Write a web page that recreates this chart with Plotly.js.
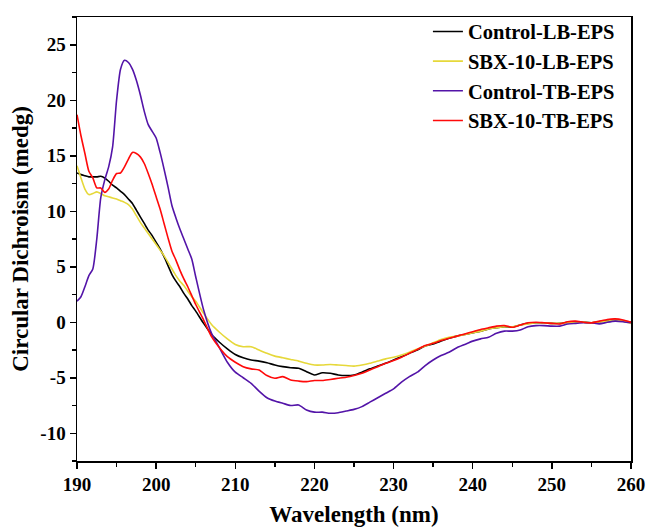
<!DOCTYPE html>
<html>
<head>
<meta charset="utf-8">
<script src="https://cdn.plot.ly/plotly-3.0.1.min.js"></script>
<style>html,body{margin:0;padding:0;background:#fff;}</style>
</head>
<body>
<div id="chart" style="width:646px;height:527px;"></div>
<script>
// Wavelength (nm): 0.5 nm steps 190-205, then 1 nm steps 206-260
const wavelength = [190,190.5,191,191.5,192,192.5,193,193.5,194,194.5,195,195.5,196,196.5,197,197.5,198,198.5,199,199.5,200,200.5,201,201.5,202,202.5,203,203.5,204,204.5,205,
206,207,208,209,210,211,212,213,214,215,216,217,218,219,220,221,222,223,224,225,226,227,228,229,230,231,232,233,234,235,236,237,238,239,240,241,242,243,244,245,246,247,248,249,250,251,252,253,254,255,256,257,258,259,260];

const controlLB = [13.45,13.3,13.2,13.1,13.1,13.1,13.15,13.0,12.7,12.35,12.1,11.8,11.5,11.1,10.7,10.1,9.5,8.9,8.3,7.8,7.2,6.6,5.9,5.1,4.3,3.7,3.2,2.6,2.1,1.5,1.0,
-0.1,-1.1,-1.8,-2.4,-2.9,-3.2,-3.4,-3.5,-3.65,-3.85,-4.0,-4.1,-4.15,-4.45,-4.75,-4.55,-4.6,-4.75,-4.8,-4.75,-4.5,-4.2,-3.95,-3.7,-3.4,-3.1,-2.8,-2.5,-2.15,-1.95,-1.7,-1.45,-1.25,-1.1,-0.95,-0.8,-0.6,-0.5,-0.4,-0.45,-0.25,-0.1,-0.05,-0.05,-0.1,-0.1,0.0,0.05,0.0,-0.05,0.05,0.15,0.2,0.1,0.0];

const sbx10LB = [14.1,13.0,12.0,11.5,11.6,11.75,11.6,11.4,11.3,11.2,11.1,10.95,10.8,10.6,10.2,9.6,9.0,8.5,8.0,7.5,7.0,6.5,6.0,5.4,4.8,4.2,3.7,3.3,2.8,2.3,1.9,
0.8,-0.2,-0.9,-1.5,-2.0,-2.2,-2.2,-2.5,-2.8,-3.05,-3.2,-3.35,-3.5,-3.7,-3.85,-3.85,-3.8,-3.85,-3.9,-3.95,-3.85,-3.7,-3.5,-3.3,-3.15,-2.95,-2.7,-2.4,-2.15,-1.85,-1.55,-1.35,-1.25,-1.1,-0.95,-0.8,-0.6,-0.5,-0.4,-0.4,-0.25,-0.15,-0.05,-0.05,-0.1,-0.1,-0.05,0.0,0.0,-0.05,0.05,0.1,0.2,0.1,-0.1];

const controlTB = [1.9,2.3,3.2,4.2,4.8,7.5,11.2,12.8,14.0,15.8,20.0,22.8,23.6,23.4,22.8,21.8,20.5,19.0,17.8,17.2,16.6,15.3,13.8,12.2,10.5,9.4,8.4,7.5,6.6,5.7,4.1,
1.1,-1.0,-2.3,-3.6,-4.5,-5.0,-5.5,-6.2,-6.8,-7.1,-7.3,-7.5,-7.45,-7.9,-8.1,-8.1,-8.2,-8.15,-8.0,-7.85,-7.6,-7.2,-6.8,-6.4,-6.0,-5.4,-4.9,-4.5,-3.9,-3.4,-3.0,-2.7,-2.3,-2.0,-1.7,-1.5,-1.35,-1.0,-0.8,-0.8,-0.7,-0.4,-0.3,-0.3,-0.35,-0.35,-0.15,-0.1,-0.05,-0.05,-0.15,0.0,0.1,0.05,-0.05];

const sbx10TB = [18.7,16.8,15.2,13.6,13.0,12.1,12.1,11.7,12.0,12.8,13.4,13.45,14.0,14.7,15.3,15.2,14.9,14.3,13.4,12.4,11.3,10.2,8.9,7.6,6.4,5.6,4.7,3.9,3.2,2.4,1.6,
0.2,-1.3,-2.3,-3.1,-3.6,-4.0,-4.2,-4.3,-4.8,-5.05,-4.9,-5.2,-5.3,-5.35,-5.25,-5.25,-5.15,-5.05,-4.95,-4.8,-4.6,-4.3,-4.0,-3.7,-3.45,-3.15,-2.8,-2.45,-2.1,-1.9,-1.65,-1.45,-1.25,-1.05,-0.85,-0.65,-0.5,-0.35,-0.3,-0.45,-0.25,-0.05,0.0,-0.05,-0.1,-0.15,0.05,0.1,0.0,-0.05,0.1,0.25,0.3,0.2,0.0];

const seriesNames = ['Control-LB-EPS','SBX-10-LB-EPS','Control-TB-EPS','SBX-10-TB-EPS'];
const seriesValues = [controlLB, sbx10LB, controlTB, sbx10TB];
const seriesColors = ['#000000','#e6d83a','#5314a8','#ff0a0a'];

// y tick labels as printed (plain hyphen minus)
const yTickVals = [-10,-5,0,5,10,15,20,25];
const yTickText = ['-10','-5','0','5','10','15','20','25'];

const FONT = 'Liberation Serif, Times New Roman, serif';

const traces = seriesNames.map((n,i)=>({
  type:'scatter', mode:'lines', name:n, x:wavelength, y:seriesValues[i],
  line:{color:seriesColors[i], width:1.6, shape:'spline', smoothing:0.6}
}));

const layout = {
  width:646, height:527,
  margin:{l:77, r:15, t:14, b:66},
  paper_bgcolor:'#fff', plot_bgcolor:'#fff',
  font:{family:FONT, color:'#000'},
  showlegend:true,
  legend:{x:0.98, xanchor:'right', y:1.012, yanchor:'top', bgcolor:'rgba(0,0,0,0)',
    font:{family:FONT, size:20.5, weight:'bold', color:'#000'}, tracegroupgap:0, itemwidth:30},
  xaxis:{
    range:[190,260], tick0:190, dtick:10, ticks:'outside', ticklen:6, tickwidth:1.5, tickcolor:'#000',
    minor:{dtick:5, ticks:'outside', ticklen:4, tickwidth:1.5, tickcolor:'#000', showgrid:false},
    showline:true, linecolor:'#000', linewidth:1.5, mirror:true, showgrid:false, zeroline:false,
    tickfont:{family:FONT, size:19, weight:'bold'},
    title:{text:'Wavelength (nm)', font:{family:FONT, size:23, weight:'bold'}, standoff:19}
  },
  yaxis:{
    range:[-12.5,27.5], tickmode:'array', tickvals:yTickVals, ticktext:yTickText,
    ticks:'outside', ticklen:6, tickwidth:1.5, tickcolor:'#000',
    minor:{tickmode:'linear', tick0:0, dtick:2.5, ticks:'outside', ticklen:4, tickwidth:1.5, tickcolor:'#000', showgrid:false},
    showline:true, linecolor:'#000', linewidth:1.5, mirror:true, showgrid:false, zeroline:false,
    tickfont:{family:FONT, size:19, weight:'bold'},
    title:{text:'Circular Dichroism (medg)', font:{family:FONT, size:23, weight:'bold'}, standoff:5}
  }
};

Plotly.newPlot('chart', traces, layout, {displayModeBar:false, staticPlot:true});
</script>
</body>
</html>
